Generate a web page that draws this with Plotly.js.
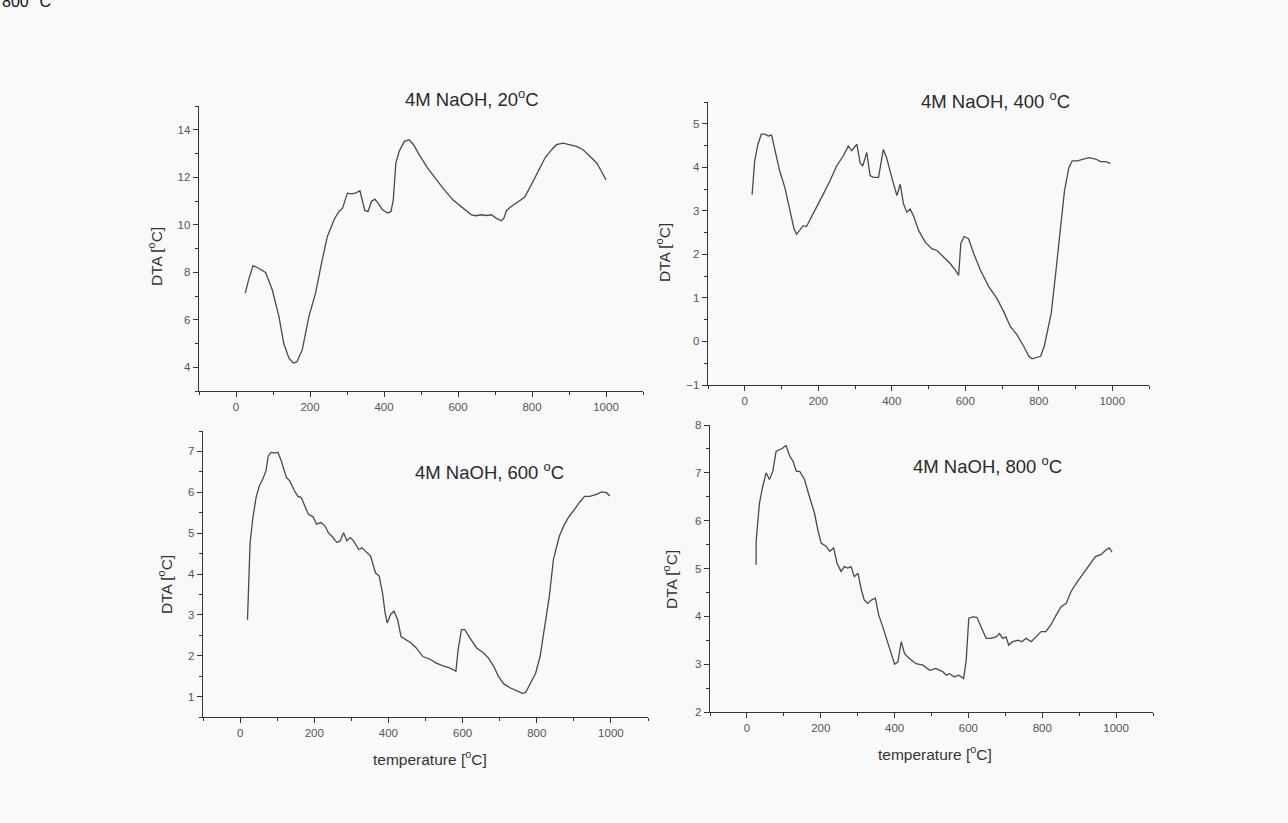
<!DOCTYPE html>
<html>
<head>
<meta charset="utf-8">
<script src="https://cdn.plot.ly/plotly-3.0.1.min.js"></script>
<style>html,body{margin:0;padding:0;background:#f9f9f9;}</style>
</head>
<body>
<div id="chart" style="width:1288px;height:823px;"></div>
<script>
// Panel 1: 4M NaOH, 20 °C
const t20 = [25,34,46,61,80,98,116,129,143,156,165,179,197,215,233,247,265,278,288,301,310,323,335,342,348,357,366,375,384,396,410,419,425,432,441,455,468,480,495,518,541,563,586,608,636,649,663,676,690,703,717,724,731,744,762,780,798,816,835,853,866,884,902,920,938,956,975,988,1000];
const dta20 = [7.12,7.68,8.28,8.17,7.99,7.26,6.14,5.01,4.38,4.17,4.24,4.73,6.13,7.12,8.52,9.51,10.21,10.56,10.70,11.33,11.30,11.33,11.43,10.91,10.60,10.56,10.98,11.08,10.91,10.63,10.49,10.56,11.05,12.60,13.09,13.51,13.58,13.37,12.95,12.38,11.89,11.47,11.05,10.77,10.42,10.38,10.42,10.39,10.42,10.28,10.17,10.28,10.60,10.77,10.98,11.16,11.68,12.24,12.81,13.16,13.37,13.44,13.37,13.30,13.16,12.88,12.60,12.24,11.89];

// Panel 2: 4M NaOH, 400 °C
const t400 = [20,23,27,36,45,55,64,73,82,95,109,123,134,141,150,159,168,177,195,214,232,250,268,282,291,305,314,321,332,341,350,364,377,386,400,414,423,432,441,450,459,473,491,509,523,541,559,573,582,588,597,609,623,641,664,686,705,723,741,759,773,782,795,805,815,825,834,845,857,870,882,891,905,923,936,955,968,982,995];
const dta400 = [3.37,3.77,4.15,4.53,4.76,4.76,4.72,4.74,4.41,3.92,3.54,3.01,2.59,2.46,2.56,2.66,2.64,2.78,3.08,3.39,3.69,4.03,4.26,4.49,4.38,4.53,4.10,4.03,4.34,3.81,3.77,3.77,4.41,4.22,3.77,3.35,3.61,3.16,2.97,3.04,2.89,2.55,2.28,2.13,2.09,1.94,1.79,1.64,1.52,2.25,2.41,2.36,2.02,1.64,1.26,0.99,0.68,0.34,0.15,-0.11,-0.34,-0.40,-0.37,-0.34,-0.11,0.27,0.65,1.48,2.47,3.46,3.99,4.15,4.15,4.19,4.22,4.19,4.13,4.13,4.09];

// Panel 3: 4M NaOH, 600 °C
const t600 = [20,23,27,34,43,52,61,70,76,84,93,102,111,125,134,147,156,165,175,184,197,206,218,229,238,247,261,270,279,288,297,306,320,329,338,352,365,375,384,391,397,406,415,425,434,447,461,475,493,511,529,547,565,582,588,597,606,620,638,656,670,684,697,711,729,747,761,770,784,797,809,820,834,845,861,875,888,902,915,929,943,961,975,988,997];
const dta600 = [2.88,3.78,4.77,5.34,5.87,6.16,6.32,6.53,6.89,6.98,6.96,6.98,6.77,6.36,6.28,6.03,5.90,5.87,5.63,5.46,5.40,5.22,5.26,5.18,5.01,4.93,4.77,4.81,5.01,4.81,4.89,4.81,4.60,4.64,4.56,4.44,4.03,3.95,3.54,3.05,2.80,3.01,3.09,2.88,2.47,2.39,2.31,2.19,1.98,1.92,1.82,1.75,1.70,1.62,2.15,2.64,2.64,2.43,2.19,2.07,1.94,1.74,1.49,1.31,1.21,1.14,1.08,1.10,1.33,1.57,1.98,2.64,3.46,4.36,4.93,5.22,5.42,5.58,5.75,5.90,5.90,5.95,6.01,5.99,5.91];

// Panel 4: 4M NaOH, 800 °C
const t800 = [25,25,30,34,43,52,61,70,79,88,97,106,116,125,134,143,156,169,183,192,201,215,224,235,244,255,264,273,282,291,301,310,318,327,337,348,357,368,382,391,400,409,418,427,440,458,477,495,512,531,540,549,562,574,587,594,601,612,623,634,648,661,675,684,693,702,709,720,734,745,756,770,783,797,810,823,838,851,865,878,892,905,919,932,944,959,973,982,989];
const dta800 = [5.08,5.57,6.02,6.37,6.72,7.00,6.86,7.03,7.45,7.48,7.52,7.57,7.35,7.24,7.03,7.03,6.86,6.51,6.16,5.81,5.53,5.46,5.36,5.43,5.11,4.94,5.04,5.01,5.04,4.83,4.90,4.55,4.34,4.27,4.34,4.38,4.03,3.78,3.43,3.19,3.00,3.05,3.47,3.22,3.12,3.01,2.98,2.87,2.91,2.84,2.77,2.80,2.73,2.77,2.70,3.08,3.96,3.99,3.98,3.78,3.54,3.54,3.57,3.64,3.54,3.57,3.40,3.47,3.50,3.47,3.54,3.47,3.57,3.68,3.68,3.82,4.03,4.20,4.27,4.52,4.69,4.83,4.97,5.11,5.25,5.29,5.39,5.43,5.34];

const panelTitles = ['4M NaOH, 20<sup>o</sup>C','4M NaOH, 400 <sup>o</sup>C','4M NaOH, 600 <sup>o</sup>C','4M NaOH, 800 <sup>o</sup>C'];
const yTitle = 'DTA [<sup>o</sup>C]';
const xTitle = 'temperature [<sup>o</sup>C]';
const xTicks = [0,200,400,600,800,1000];

const W = 1288, H = 823;
const px = (a,b) => [a/W, b/W];
const py = (top,bot) => [1-bot/H, 1-top/H];

const lineCol = '#4a4a4a';
const tr = (x,y,i) => ({x:x, y:y, xaxis: i===1?'x':'x'+i, yaxis: i===1?'y':'y'+i, type:'scatter', mode:'lines', line:{color:lineCol, width:1.3}, hoverinfo:'skip', showlegend:false});

const data = [tr(t20,dta20,1), tr(t400,dta400,2), tr(t600,dta600,3), tr(t800,dta800,4)];

const tickFont = {family:'Liberation Sans, Arial, sans-serif', size:11.5, color:'#555'};
function xa(dom, anchor){
  return {domain:dom, anchor:anchor, range:[-100,1100], tickvals:xTicks, ticks:'outside', ticklen:5, tickwidth:1, tickcolor:'#333',
    showline:true, linecolor:'#333', linewidth:1.3, showgrid:false, zeroline:false, tickfont:tickFont,
    minor:{dtick:100, tick0:-100, ticks:'outside', ticklen:3, tickcolor:'#333', showgrid:false}};
}
function ya(dom, anchor, range, dtick, mdtick){
  return {domain:dom, anchor:anchor, range:range, dtick:dtick, tick0:0, ticks:'outside', ticklen:5, tickwidth:1, tickcolor:'#333',
    showline:true, linecolor:'#333', linewidth:1.3, showgrid:false, zeroline:false, tickfont:tickFont,
    minor:{dtick:mdtick, ticks:'outside', ticklen:3, tickcolor:'#333', showgrid:false}};
}

const titleFont = {family:'Liberation Sans, Arial, sans-serif', size:18.5, color:'#2a2a2a'};
const labFont = {family:'Liberation Sans, Arial, sans-serif', size:15.5, color:'#333'};
function ann(text, x, y, font, angle){
  return {text:text, xref:'paper', yref:'paper', x:x/W, y:1-y/H, xanchor:'center', yanchor:'middle', showarrow:false, font:font, textangle:angle||0};
}

const layout = {
  width:W, height:H, margin:{l:0,r:0,t:0,b:0},
  paper_bgcolor:'#f9f9f9', plot_bgcolor:'rgba(0,0,0,0)',
  xaxis: xa(px(199,643),'y'),  yaxis: ya(py(106,391),'x',[3,15],2,1),
  xaxis2: xa(px(708,1149),'y2'), yaxis2: ya(py(102,385),'x2',[-1,5.5],1,0.5),
  xaxis3: xa(px(203,648),'y3'), yaxis3: ya(py(431,717),'x3',[0.5,7.5],1,0.5),
  xaxis4: xa(px(710,1153),'y4'), yaxis4: ya(py(425,712),'x4',[2,8],1,0.5),
  annotations: [
    ann(panelTitles[0], 472, 98, titleFont),
    ann(panelTitles[1], 995, 100, titleFont),
    ann(panelTitles[2], 489, 471, titleFont),
    ann(panelTitles[3], 987, 465, titleFont),
    ann(yTitle, 155, 257, labFont, -90),
    ann(yTitle, 663, 253, labFont, -90),
    ann(yTitle, 165, 585, labFont, -90),
    ann(yTitle, 670, 580, labFont, -90),
    ann(xTitle, 430, 758, labFont),
    ann(xTitle, 935, 753, labFont),
    {text:'800 <sup>o</sup>C', xref:'paper', yref:'paper', x:0, y:1, xanchor:'left', yanchor:'bottom', yshift:-12, showarrow:false, font:{family:'Liberation Sans, Arial, sans-serif', size:16, color:'#111'}}
  ]
};

Plotly.newPlot('chart', data, layout, {staticPlot:true});
</script>
</body>
</html>
